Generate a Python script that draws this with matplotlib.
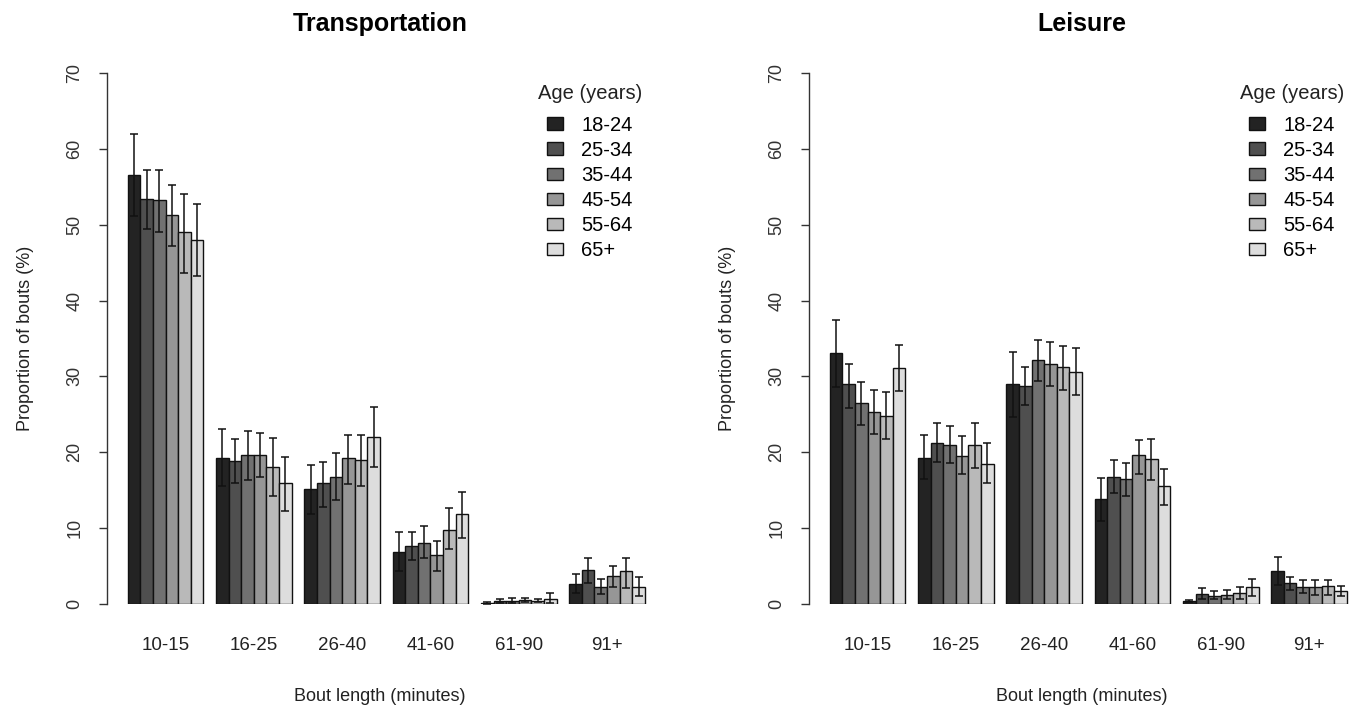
"""
Bout length distribution by age group, transportation vs leisure.
"""
import numpy as np
import matplotlib
matplotlib.use('Agg')
import matplotlib.pyplot as plt
from matplotlib.patches import Patch


BOUTS = ['10-15', '16-25', '26-40', '41-60', '61-90', '91+']
AGES = ['18-24', '25-34', '35-44', '45-54', '55-64', '65+']
COLORS = ['#232323', '#4f4f4f', '#717171', '#969696', '#b9b9b9', '#dddddd']

# rows = age groups, columns = bout length
TRANS_MEAN = [[56.5, 19.2, 15.2, 6.9, 0.1, 2.7],
              [53.4, 18.9, 15.9, 7.6, 0.4, 4.5],
              [53.2, 19.6, 16.7, 8.1, 0.4, 2.3],
              [51.3, 19.6, 19.2, 6.4, 0.5, 3.7],
              [49.0, 18.1, 19.0, 9.8, 0.4, 4.3],
              [48.0, 16.0, 22.0, 11.8, 0.6, 2.3]]
TRANS_HI = [[61.9, 23.1, 18.3, 9.5, 0.2, 4.0],
            [57.2, 21.7, 18.7, 9.5, 0.7, 6.1],
            [57.2, 22.8, 19.9, 10.3, 0.8, 3.3],
            [55.2, 22.6, 22.3, 8.3, 0.8, 5.0],
            [54.1, 21.9, 22.3, 12.7, 0.6, 6.1],
            [52.7, 19.4, 26.0, 14.8, 1.4, 3.5]]
TRANS_LO = [[51.2, 15.6, 11.8, 4.3, 0.0, 1.5],
            [49.5, 16.0, 12.8, 5.8, 0.1, 2.8],
            [49.0, 16.4, 13.7, 6.1, 0.1, 1.3],
            [47.2, 16.8, 15.8, 4.4, 0.2, 2.2],
            [43.7, 14.3, 15.6, 7.2, 0.2, 2.1],
            [43.2, 12.3, 18.0, 8.7, 0.1, 1.1]]

LEIS_MEAN = [[33.1, 19.3, 29.0, 13.8, 0.4, 4.4],
             [29.0, 21.2, 28.7, 16.7, 1.3, 2.8],
             [26.5, 21.0, 32.2, 16.5, 1.1, 2.3],
             [25.3, 19.5, 31.7, 19.6, 1.2, 2.3],
             [24.8, 20.9, 31.2, 19.1, 1.5, 2.4],
             [31.1, 18.5, 30.6, 15.5, 2.2, 1.7]]
LEIS_HI = [[37.5, 22.3, 33.2, 16.6, 0.5, 6.2],
           [31.7, 23.8, 31.2, 19.0, 2.1, 3.6],
           [29.3, 23.5, 34.8, 18.6, 1.7, 3.2],
           [28.2, 22.1, 34.6, 21.6, 1.8, 3.2],
           [27.9, 23.8, 34.0, 21.7, 2.2, 3.2],
           [34.1, 21.2, 33.8, 17.8, 3.3, 2.4]]
LEIS_LO = [[28.6, 16.5, 24.6, 10.9, 0.3, 2.5],
           [25.9, 18.7, 26.2, 14.6, 0.6, 1.8],
           [23.6, 18.6, 29.4, 14.2, 0.6, 1.4],
           [22.4, 17.1, 28.7, 17.2, 0.7, 1.2],
           [21.7, 17.9, 28.2, 16.4, 0.7, 1.2],
           [28.1, 15.9, 27.6, 13.0, 1.0, 1.0]]

W, H = 1366, 711
plt.rcParams['font.family'] = ['Liberation Sans', 'DejaVu Sans']


def panel(ax, title, mean, lo, hi):
    mean, lo, hi = np.array(mean), np.array(lo), np.array(hi)
    n_age = len(AGES)
    group = np.arange(len(BOUTS)) * (n_age + 1) + 1

    for i in range(n_age):
        x = group + i + 0.5
        ax.bar(x, mean[i], width=1.0, color=COLORS[i], edgecolor='#111111',
               linewidth=1.0, zorder=2)
        ax.errorbar(x, mean[i], yerr=[mean[i] - lo[i], hi[i] - mean[i]],
                    fmt='none', ecolor='#111111', elinewidth=1.1,
                    capsize=2.8, capthick=1.1, zorder=3)

    ax.set_xlim(-0.64, group[-1] + n_age + 0.64)
    ax.set_ylim(0, 70)
    ax.set_yticks(range(0, 71, 10))
    ax.set_xticks(group + n_age / 2)
    ax.set_xticklabels(BOUTS, fontsize=13.5)
    ax.tick_params(axis='x', length=0, pad=24, colors='#222222')
    ax.tick_params(axis='y', length=6, width=1.0, pad=11, labelsize=13,
                   labelrotation=90, colors='#333333', labelcolor='#333333')
    for lab in ax.get_yticklabels():
        lab.set_verticalalignment('center')

    for s in ['top', 'right', 'bottom']:
        ax.spines[s].set_visible(False)
    ax.spines['left'].set_color('#333333')
    ax.spines['left'].set_linewidth(1.0)

    ax.set_title(title, fontsize=18, fontweight='bold', pad=30)
    ax.set_xlabel('Bout length (minutes)', fontsize=13, labelpad=24,
                  color='#222222')
    ax.set_ylabel('Proportion of bouts (%)', fontsize=13, labelpad=23,
                  color='#222222')

    handles = [Patch(facecolor=c, edgecolor='#111111', linewidth=1.0)
               for c in COLORS]
    leg = ax.legend(handles, AGES, title='Age (years)', loc='upper right',
                    bbox_to_anchor=(0.998, 0.998), frameon=False, fontsize=14.5,
                    title_fontsize=14.5, handlelength=0.8, handleheight=0.55,
                    handletextpad=0.9, labelspacing=0.3, borderpad=0)
    leg.get_title().set_color('#222222')
    leg._legend_box.sep = 9


fig = plt.figure(figsize=(W / 100, H / 100), dpi=100)
ax1 = fig.add_axes([107 / W, 1 - 604 / H, 546 / W, 531 / H])
ax2 = fig.add_axes([809 / W, 1 - 604 / H, 546 / W, 531 / H])

panel(ax1, 'Transportation', TRANS_MEAN, TRANS_LO, TRANS_HI)
panel(ax2, 'Leisure', LEIS_MEAN, LEIS_LO, LEIS_HI)

fig.savefig('out.png', dpi=100)
